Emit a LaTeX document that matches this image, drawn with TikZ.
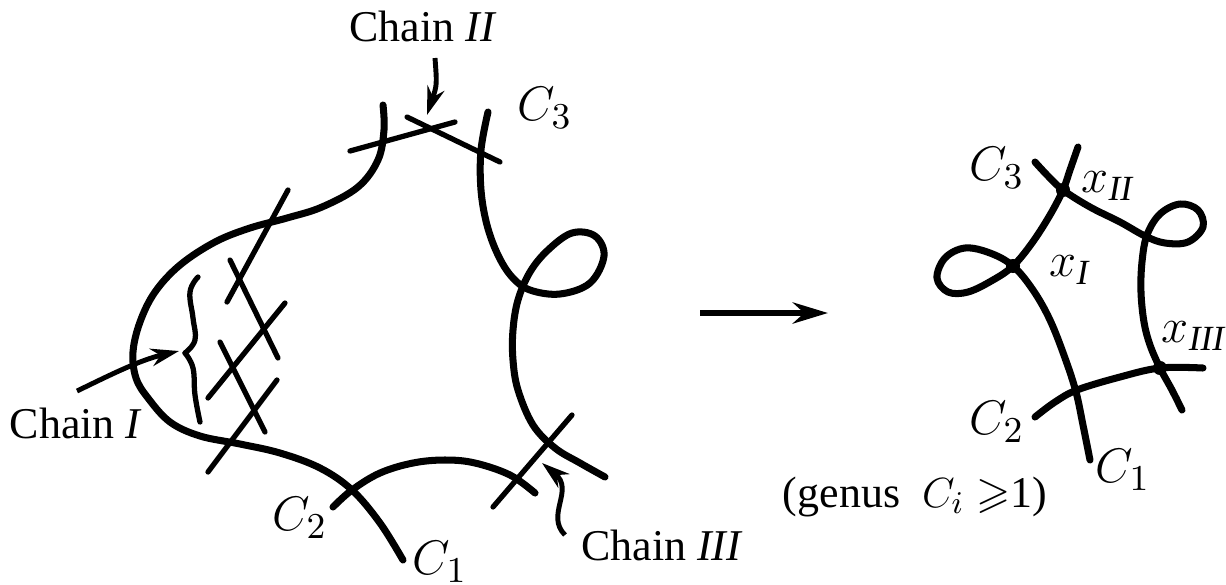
\documentclass[tikz,border=0pt]{standalone}
\usepackage{amssymb}
\usepackage{fontspec}
\setmainfont{Liberation Serif}
\usetikzlibrary{arrows.meta}

\begin{document}
\begin{tikzpicture}[x=0.01cm, y=-0.01cm,
  curve/.style={line width=2pt, line cap=round, line join=round},
  chainln/.style={line width=1.5pt, line cap=round},
  pointer/.style={line width=1.4pt, -{Stealth[length=8pt, width=5pt]}},
  lbl/.style={font=\fontsize{12.5}{14}\selectfont, inner sep=0pt},
  pt/.style={circle, fill, inner sep=0pt, minimum size=4pt}]
  \useasboundingbox (0,0) rectangle (1226,584);
  % left picture: the three curves
  \draw[curve] plot[smooth, tension=0.6] coordinates {(383,105) (384,130) (378,160)
    (358,187) (322,207) (287,218) (250,228) (215,242) (180,265) (155,292) (140,322)
    (133,352) (136,378) (148,398) (170,422) (200,436) (240,444) (280,453) (320,468)
    (352,490) (380,523) (403,560)};
  \draw[curve] plot[smooth, tension=0.6] coordinates {(333,507) (352,490) (380,473)
    (413,463) (445,460) (475,463) (510,475) (535,493)};
  \draw[curve] plot[smooth, tension=0.6] coordinates {(488,112) (481,150) (481,190)
    (487,225) (498,255) (512,277) (530,290) (560,294) (590,283) (604,256) (595,236)
    (572,233) (548,250) (530,272) (518,300) (513,330) (513,360) (518,390) (533,425)
    (555,448) (580,463) (605,477)};
  % chain I
  \draw[chainln] (288,190) -- (227,302);
  \draw[chainln] (230,260) -- (278,358);
  \draw[chainln] (285,303) -- (208,398);
  \draw[chainln] (220,342) -- (265,432);
  \draw[chainln] (277,380) -- (208,472);
  \draw[chainln] plot[smooth, tension=0.7] coordinates {(198,277) (190,292) (193,318)
    (195,340) (185,353)};
  \draw[chainln] plot[smooth, tension=0.7] coordinates {(185,353) (193,368) (195,395)
    (200,422)};
  % chain II
  \draw[chainln] (350,151) -- (455,122);
  \draw[chainln] (407,117) -- (500,162);
  % chain III
  \draw[chainln] (572,415) -- (493,507);
  % labels and pointers
  \node[lbl] (chainII) at (423,26) {Chain \textit{II}};
  \node[lbl] (chainI) at (76,423) {Chain \textit{I}};
  \node[lbl] (chainIII) at (662,545) {Chain \textit{III}};
  \node[lbl, scale=1.15] (lC3) at (545,108) {$C_3$};
  \node[lbl, scale=1.15] (lC2) at (300,518) {$C_2$};
  \node[lbl, scale=1.15] (lC1) at (440,562) {$C_1$};
  \coordinate (aIIs) at (435,58);
  \coordinate (aIIe) at (427,115);
  \coordinate (aIs) at (77,391);
  \coordinate (aIe) at (179,351);
  \coordinate (aIIIs) at (565,535);
  \coordinate (aIIIe) at (542,463);
  \draw[pointer] (aIIs) .. controls (437,85) .. (aIIe);
  \draw[pointer] (aIs) .. controls (110,375) and (140,360) .. (aIe);
  \draw[pointer] (aIIIs) .. controls (545,515) and (575,490) .. (aIIIe);
  % the map
  \coordinate (mapL) at (700,313);
  \coordinate (mapR) at (828,313);
  \draw[line width=1.8pt, -{Stealth[length=10pt, width=6pt]}] (mapL) -- (mapR);
  % right picture
  \node[pt] (xI) at (1013,266) {};
  \node[pt] (xII) at (1063,190) {};
  \node[pt] (xIII) at (1160,368) {};
  \draw[curve] plot[smooth, tension=0.6] coordinates {(1078,147) (1070,170)
    (xII.center) (1050,215) (1032,243) (xI.center) (993,280) (968,292) (948,292)
    (937,278) (945,258) (965,248) (990,253) (xI.center) (1033,290) (1050,320)
    (1065,358) (1076,392) (1083,425) (1090,460)};
  \draw[curve] plot[smooth, tension=0.6] coordinates {(1035,162) (1048,176)
    (xII.center) (1090,207) (1120,222) (1145,236) (1165,243) (1188,242) (1203,227)
    (1198,210) (1180,204) (1160,214) (1147,235) (1142,262) (1141,292) (1144,322)
    (1150,345) (xIII.center) (1172,390) (1182,410)};
  \draw[curve] plot[smooth, tension=0.6] coordinates {(1035,417) (1055,402)
    (1077,390) (1120,377) (xIII.center) (1203,368)};
  \node[lbl, scale=1.15] (rC3) at (997,168) {$C_3$};
  \node[lbl, scale=1.15] (rxII) at (1108,186) {$x_{\mathit{II}}$};
  \node[lbl, scale=1.15] (rxI) at (1070,270) {$x_{\mathit{I}}$};
  \node[lbl, scale=1.15] (rxIII) at (1194,336) {$x_{\mathit{III}}$};
  \node[lbl, scale=1.15] (rC2) at (997,422) {$C_2$};
  \node[lbl, scale=1.15] (rC1) at (1123,470) {$C_1$};
  \node[lbl] (genus) at (915,497) {(genus \ $C_i\geqslant$1)};
\end{tikzpicture}
\end{document}
